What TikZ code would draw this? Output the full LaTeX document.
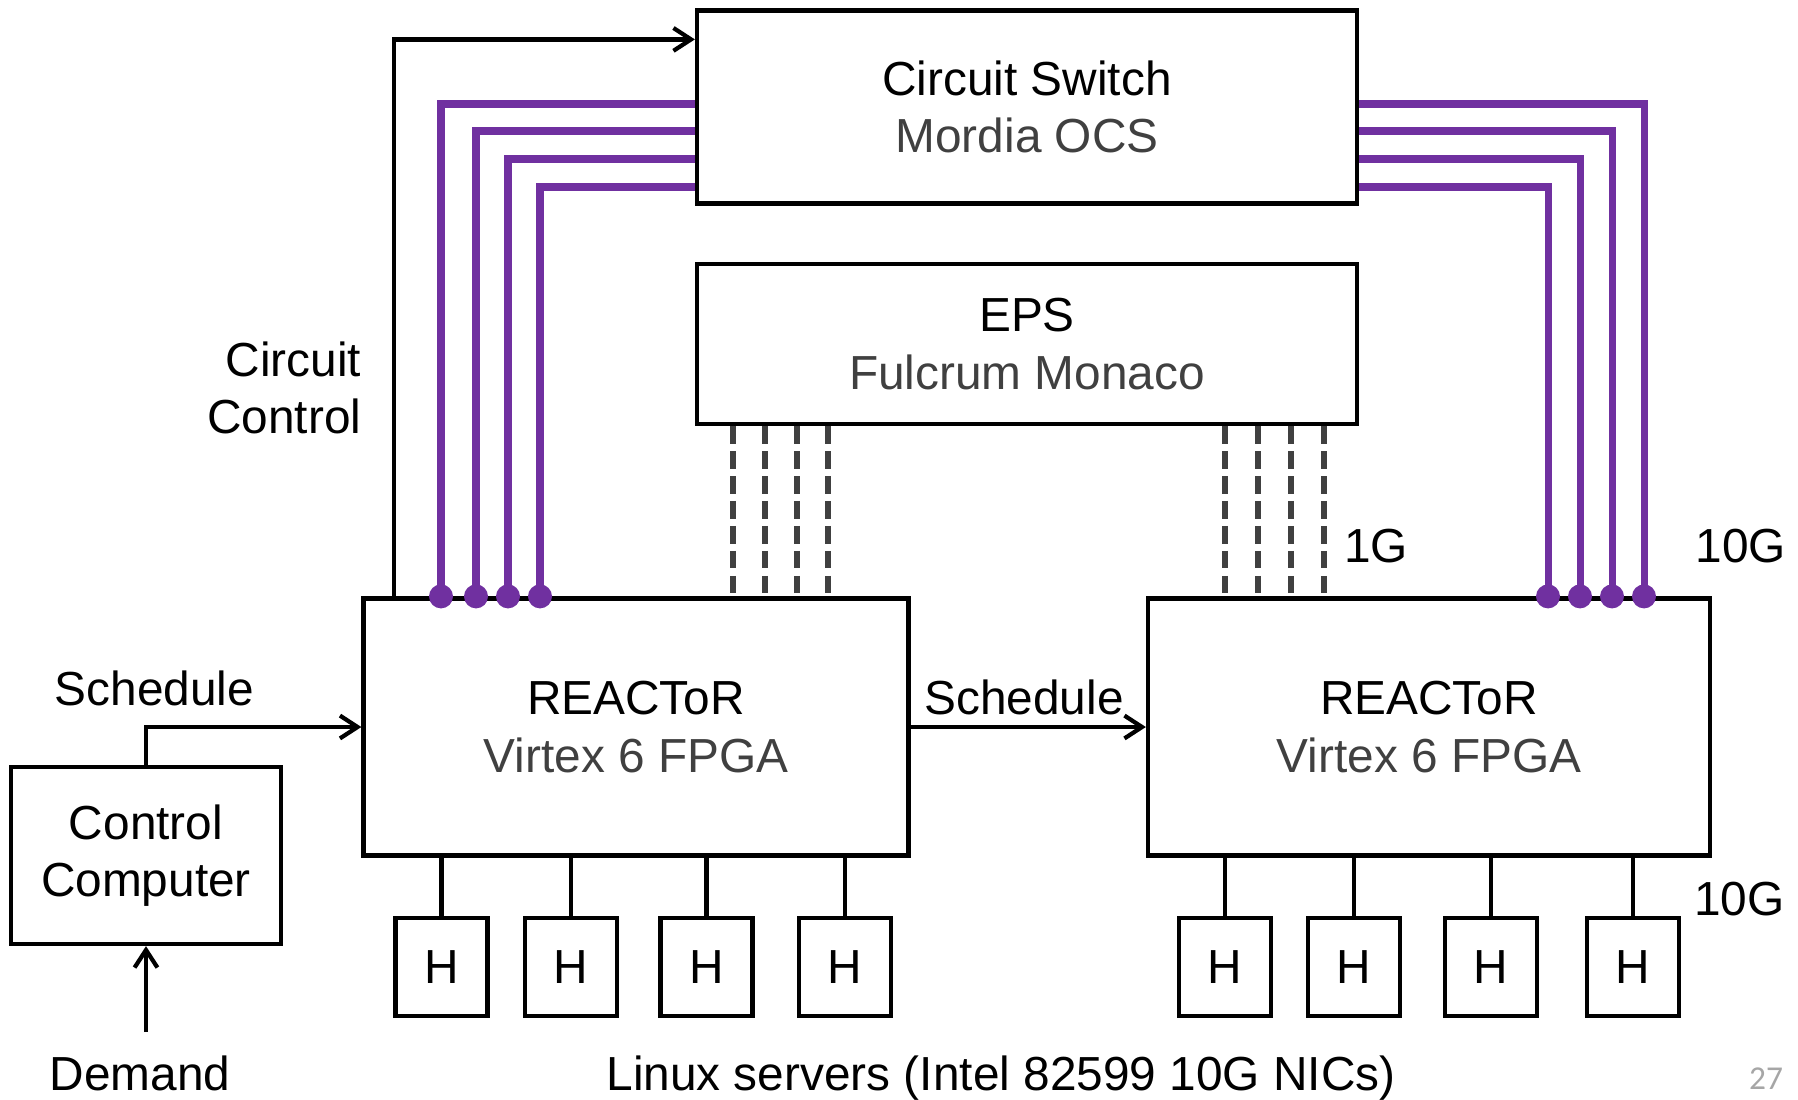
\documentclass[tikz,border=0pt]{standalone}
\usepackage{fontspec}
\setmainfont{Liberation Sans}
\newfontfamily\pagefont{Carlito}
\usepackage{xcolor}
\usetikzlibrary{arrows.meta,calc,positioning}
\definecolor{reactorPurple}{HTML}{7030A0}
\definecolor{reactorGray}{HTML}{404040}
\definecolor{reactorPage}{HTML}{A6A6A6}

\begin{document}
\begin{tikzpicture}[x=1cm,y=1cm, every node/.style={font=\fontsize{13.6}{16.3}\selectfont},
    box/.style={draw, line width=1.2pt, align=center, inner sep=0pt},
    hostbox/.style={draw, line width=1.2pt, minimum width=0.92cm, minimum height=0.975cm, inner sep=0pt},
    lbl/.style={inner sep=0pt},
    link/.style={line width=1.3pt},
    arr/.style={line width=1.2pt, -{Straight Barb[length=5pt,width=6.5pt]}},
    fiber/.style={line width=2pt, reactorPurple},
    copper/.style={line width=1.5pt, reactorGray, dash pattern=on 5pt off 2.1pt}]
    \useasboundingbox (0,0) rectangle (17.98,-10.99);
    % switches
    \node[box, minimum width=6.60cm, minimum height=1.93cm] (ocs) at (10.27,-1.07) {Circuit Switch\\\textcolor{reactorGray}{Mordia OCS}};
    \node[box, minimum width=6.60cm, minimum height=1.60cm] (eps) at (10.27,-3.44) {EPS\\\textcolor{reactorGray}{Fulcrum Monaco}};
    % reactors and control
    \node[box, minimum width=5.45cm, minimum height=2.57cm] (torL) at (6.36,-7.27) {REACToR\\\textcolor{reactorGray}{Virtex 6 FPGA}};
    \node[box, minimum width=5.62cm, minimum height=2.57cm] (torR) at (14.29,-7.27) {REACToR\\\textcolor{reactorGray}{Virtex 6 FPGA}};
    \node[box, minimum width=2.70cm, minimum height=1.77cm] (ctrl) at (1.46,-8.555) {Control\\Computer};
    % hosts
    \foreach \hx [count=\i] in {4.415,5.71,7.064,8.45} {
      \node[hostbox] (hL\i) at (\hx,-9.67) {H};
      \draw[link] (torL.south -| hL\i) -- (hL\i.north);
    }
    \foreach \hx [count=\i] in {12.25,13.54,14.91,16.33} {
      \node[hostbox] (hR\i) at (\hx,-9.67) {H};
      \draw[link] (torR.south -| hR\i) -- (hR\i.north);
    }
    % 1G links to the EPS
    \foreach \dx in {7.33,7.65,7.97,8.28}
      \draw[copper] (eps.south -| \dx,0) -- (torL.north -| \dx,0);
    \foreach \dx in {12.25,12.58,12.91,13.24}
      \draw[copper] (eps.south -| \dx,0) -- (torR.north -| \dx,0);
    % 10G links to the circuit switch
    \foreach \fx/\fy in {4.41/1.04,4.76/1.31,5.08/1.59,5.40/1.87} {
      \draw[fiber] (torL.north -| \fx,0) |- (ocs.west |- 0,-\fy);
      \fill[reactorPurple] (torL.north -| \fx,0) circle (0.12);
    }
    \foreach \fx/\fy in {15.48/1.87,15.80/1.59,16.12/1.31,16.44/1.04} {
      \draw[fiber] (torR.north -| \fx,0) |- (ocs.east |- 0,-\fy);
      \fill[reactorPurple] (torR.north -| \fx,0) circle (0.12);
    }
    % control paths
    \draw[arr] ([xshift=0.325cm]torL.north west) |- ([yshift=-0.31cm]ocs.north west);
    \draw[arr] (ctrl.north) |- (torL.west);
    \draw[arr] (torL.east) -- (torR.west);
    \coordinate (dmdTail) at (1.46,-10.32);
    \draw[arr] (dmdTail) -- (ctrl.south);
    % labels
    \node[lbl, anchor=east, align=right] (circCtl) at (3.62,-3.88) {Circuit\\Control};
    \node[lbl, anchor=base] (schedL) at (1.545,-7.05) {Schedule};
    \node[lbl, anchor=base] (schedM) at (10.24,-7.145) {Schedule};
    \node[lbl, anchor=base] (demand) at (1.40,-10.90) {Demand};
    \node[lbl, anchor=base] (servers) at (10.01,-10.90) {Linux servers (Intel 82599 10G NICs)};
    \node[lbl, anchor=base] (oneG) at (13.76,-5.62) {1G};
    \node[lbl, anchor=base] (tenGtop) at (17.41,-5.62) {10G};
    \node[lbl, anchor=base] (tenGbot) at (17.395,-9.15) {10G};
    \node[lbl, anchor=base, text=reactorPage, font=\pagefont\fontsize{9.5}{11}\selectfont] (pageNo) at (17.66,-10.89) {27};
  \end{tikzpicture}
\end{document}
